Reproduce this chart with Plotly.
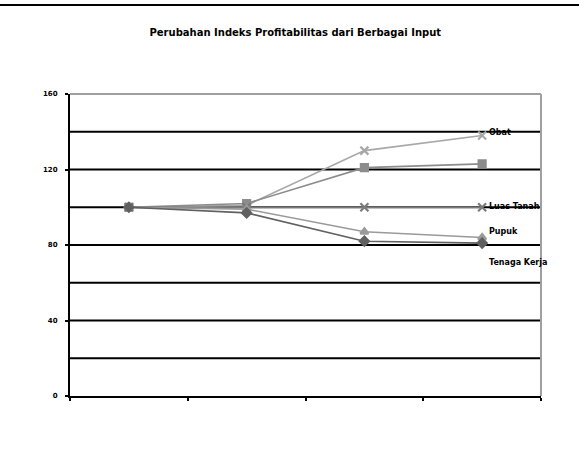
import plotly.graph_objects as go

# Periods (unlabelled on the category axis) and index values per input
periods = [0, 1, 2, 3]
series_names = ["Obat", "Benih", "Luas Tanah", "Pupuk", "Tenaga Kerja"]
obat = [100, 101, 130, 138]
benih = [100, 102, 121, 123]
luas_tanah = [100, 100, 100, 100]
pupuk = [100, 99, 87, 84]
tenaga_kerja = [100, 97, 82, 81]

y_ticks = [0, 40, 80, 120, 160]
grid_vals = [20, 40, 60, 80, 100, 120, 140, 160]

values = [obat, benih, luas_tanah, pupuk, tenaga_kerja]
colors = ["#a8a8a8", "#8c8c8c", "#7a7a7a", "#9a9a9a", "#606060"]
symbols = ["x-thin", "square", "x-thin", "triangle-up", "diamond"]
sizes = [8, 7, 8, 7, 7]

fig = go.Figure()
for name, vals, c, s, sz in zip(series_names, values, colors, symbols, sizes):
    fig.add_trace(go.Scatter(
        x=periods, y=vals, name=name, mode="lines+markers",
        line=dict(color=c, width=1.6),
        marker=dict(symbol=s, size=sz, color=c, line=dict(color=c, width=2.2)),
        showlegend=False,
    ))

# Horizontal gridlines
for g in grid_vals:
    fig.add_shape(type="line", xref="paper", yref="y", x0=0, x1=1, y0=g, y1=g,
                  line=dict(color="black", width=2), layer="below")

# End labels next to the last point of each labelled line
end_labels = [("Obat", obat[-1], 3), ("Luas Tanah", luas_tanah[-1], 1),
              ("Pupuk", pupuk[-1], 6), ("Tenaga Kerja", tenaga_kerja[-1], -19)]
for text, yv, dy in end_labels:
    fig.add_annotation(x=3, y=yv, text=f"<b>{text}</b>", showarrow=False,
                       xanchor="left", xshift=5, yshift=dy,
                       font=dict(family="DejaVu Sans", size=8, color="black"))

fig.update_layout(
    width=579, height=450,
    margin=dict(l=70, r=38, t=94, b=54),
    paper_bgcolor="white", plot_bgcolor="white",
    title=dict(text="<b>Perubahan Indeks Profitabilitas dari Berbagai Input</b>",
               x=0.51, xanchor="center", y=0.927, yanchor="middle",
               font=dict(family="DejaVu Sans", size=10, color="black")),
    xaxis=dict(range=[-0.5, 3.5], tickvals=[-0.5, 0.5, 1.5, 2.5, 3.5],
               ticktext=["", "", "", "", ""], ticks="outside", ticklen=3,
               tickcolor="black", tickwidth=2, showgrid=False, zeroline=False,
               showline=True, linecolor="black", linewidth=2),
    yaxis=dict(range=[0, 160], tickvals=y_ticks,
               ticktext=[f"<b>{v}</b>" for v in y_ticks],
               ticks="outside", ticklen=3, tickcolor="black", tickwidth=2,
               showgrid=False, zeroline=False, showline=True, linecolor="black",
               linewidth=2, ticklabelstandoff=6,
               tickfont=dict(family="DejaVu Sans", size=7, color="black")),
)

# Gray frame on the top and right of the plot area, thin rule at the page top
fig.add_shape(type="line", xref="paper", yref="paper", x0=0, x1=1, y0=1, y1=1,
              line=dict(color="#a0a0a0", width=2))
fig.add_shape(type="line", xref="paper", yref="paper", x0=1, x1=1, y0=0, y1=1,
              line=dict(color="#a0a0a0", width=2))
fig.add_shape(type="line", xref="paper", yref="paper", x0=-0.2, x1=1.1,
              y0=1.295, y1=1.295, line=dict(color="black", width=2))

fig.write_html("out.html")
